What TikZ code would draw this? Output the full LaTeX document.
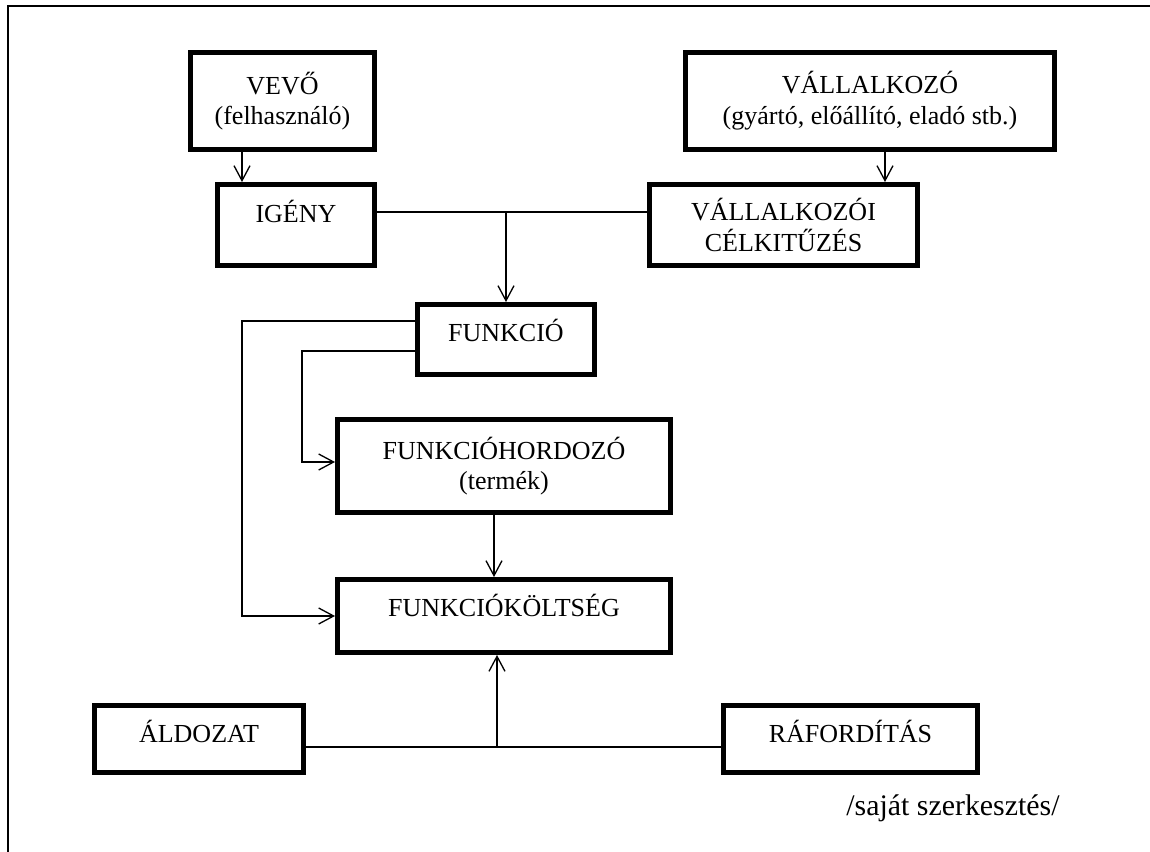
\documentclass[tikz,border=0pt]{standalone}
\usepackage{fontspec}
\setmainfont{Liberation Serif}
\usetikzlibrary{arrows.meta,calc}
\tikzset{
	box/.style={draw, line width=2.8pt, align=center, inner sep=0pt,
		font=\fontsize{14.8}{17.5}\selectfont},
	lift/.style={text depth=#1},
	ln/.style={line width=0.75pt},
	arr/.style={ln, -{Straight Barb[length=0.3cm, width=0.32cm, line width=0.75pt]}},
}
\begin{document}
\begin{tikzpicture}[x=0.02cm, y=-0.02cm]
	\useasboundingbox (0,0) rectangle (1150,852);
	\draw[line width=1.1pt] (8,852) -- (8,6) -- (1150,6);

	\node[box, minimum width=184*0.02cm, minimum height=97*0.02cm] (vevo) at (282.5,101) {VEVŐ\\(felhasználó)};
	\node[box, minimum width=157*0.02cm, minimum height=81*0.02cm, lift=16pt] (igeny) at (296,225) {IGÉNY};
	\node[box, minimum width=369*0.02cm, minimum height=97*0.02cm] (vall) at (870,101) {VÁLLALKOZÓ\\(gyártó, előállító, eladó stb.)};
	\node[box, minimum width=268*0.02cm, minimum height=81*0.02cm] (celk) at (783.5,225) {VÁLLALKOZÓI\\CÉLKITŰZÉS};
	\node[box, minimum width=177*0.02cm, minimum height=70*0.02cm, lift=11pt] (funk) at (506,339.5) {FUNKCIÓ};
	\node[box, minimum width=333*0.02cm, minimum height=93*0.02cm] (hord) at (504,466) {FUNKCIÓHORDOZÓ\\(termék)};
	\node[box, minimum width=333*0.02cm, minimum height=73*0.02cm, lift=12pt] (kolt) at (504,616) {FUNKCIÓKÖLTSÉG};
	\node[box, minimum width=209*0.02cm, minimum height=67*0.02cm, lift=9pt] (aldo) at (199,739) {ÁLDOZAT};
	\node[box, minimum width=254*0.02cm, minimum height=67*0.02cm, lift=9pt] (rafo) at (850.5,739) {RÁFORDÍTÁS};

	\node[font=\fontsize{17}{20}\selectfont] (forras) at (953,808) {/saját szerkesztés/};

	\draw[arr] (242,0 |- vevo.south) -- (242,0 |- igeny.north);
	\draw[arr] (885,0 |- vall.south) -- (885,0 |- celk.north);

	\coordinate (j1) at (funk.north |- 0,212);
	\draw[ln] (igeny.east |- j1) -- (celk.west |- j1);
	\draw[arr] (j1) -- (funk.north);

	\draw[arr] (funk.west |- 0,321) -- (242,321) -- (242,0 |- kolt.west) -- (kolt.west);
	\draw[arr] (funk.west |- 0,351) -- (302,351) -- (302,462) -- (hord.west |- 0,462);
	\draw[arr] (494,0 |- hord.south) -- (494,0 |- kolt.north);

	\coordinate (j2) at (497,747);
	\draw[ln] (aldo.east |- j2) -- (rafo.west |- j2);
	\draw[arr] (j2) -- (497,0 |- kolt.south);
\end{tikzpicture}
\end{document}
